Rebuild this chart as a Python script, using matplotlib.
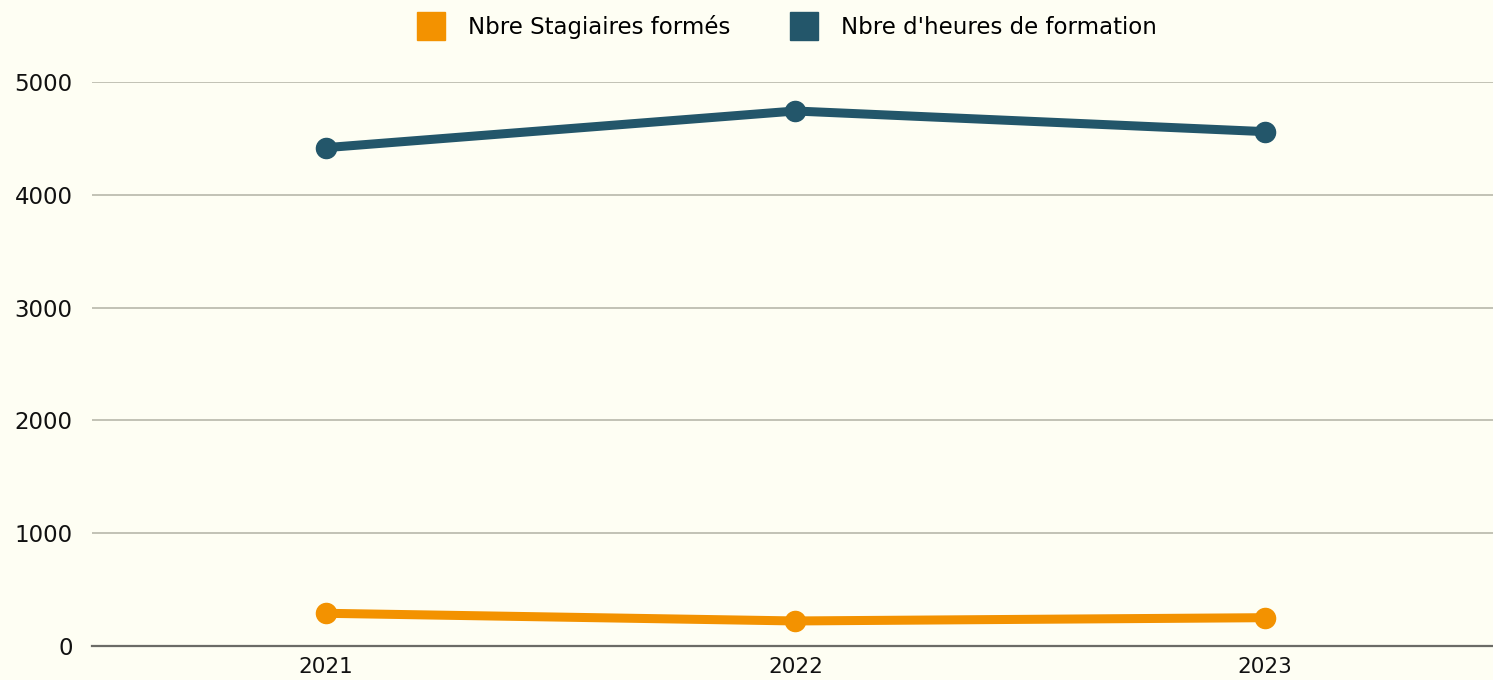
import matplotlib
matplotlib.use("Agg")
import matplotlib.pyplot as plt
from matplotlib.lines import Line2D

years = ["2021", "2022", "2023"]
stagiaires = [290, 222, 251]
heures = [4418, 4743, 4560]
yticks = [0, 1000, 2000, 3000, 4000, 5000]

orange = "#F39200"
dark = "#23566A"
bg = "#FEFEF3"

plt.rcParams['font.family'] = ['DejaVu Sans']

fig = plt.figure(figsize=(14.93, 6.8), dpi=100, facecolor=bg)
ax = fig.add_axes([92/1493, 34/680, 1 - 92/1493, 564/680])
ax.set_facecolor(bg)

x = list(range(len(years)))
ax.plot(x, stagiaires, color=orange, lw=6.5, marker='o', ms=14.5, clip_on=False, zorder=3,
        solid_capstyle='round')
ax.plot(x, heures, color=dark, lw=6.5, marker='o', ms=14.5, clip_on=False, zorder=3,
        solid_capstyle='round')

ax.set_xlim(-0.498, 2.486)
ax.set_ylim(0, 5000)
ax.set_yticks(yticks)
ax.set_yticklabels([str(v) for v in yticks])
ax.set_xticks(x)
ax.set_xticklabels(years)
ax.yaxis.grid(True, color="#BDBDB0", lw=1.3)
ax.set_axisbelow(True)
for s in ['top', 'right', 'left']:
    ax.spines[s].set_visible(False)
ax.spines['bottom'].set_color('#6B6B66')
ax.spines['bottom'].set_linewidth(1.6)
ax.spines['bottom'].set_zorder(2)
ax.tick_params(axis='y', length=0, pad=14, labelsize=16.5, labelcolor='#111111')
ax.tick_params(axis='x', length=0, pad=8, labelsize=15.5, labelcolor='#111111')

handles = [Line2D([], [], ls='none', marker='s', ms=19.5, color=orange, label="Nbre Stagiaires formés"),
           Line2D([], [], ls='none', marker='s', ms=19.5, color=dark, label="Nbre d'heures de formation")]
fig.legend(handles=handles, loc='center', bbox_to_anchor=(787/1493, 1 - 27/680), ncol=2,
           frameon=False, fontsize=16.5, handletextpad=1.0, columnspacing=2.65, handlelength=1.2)

fig.savefig("out.png", dpi=100, facecolor=bg)
